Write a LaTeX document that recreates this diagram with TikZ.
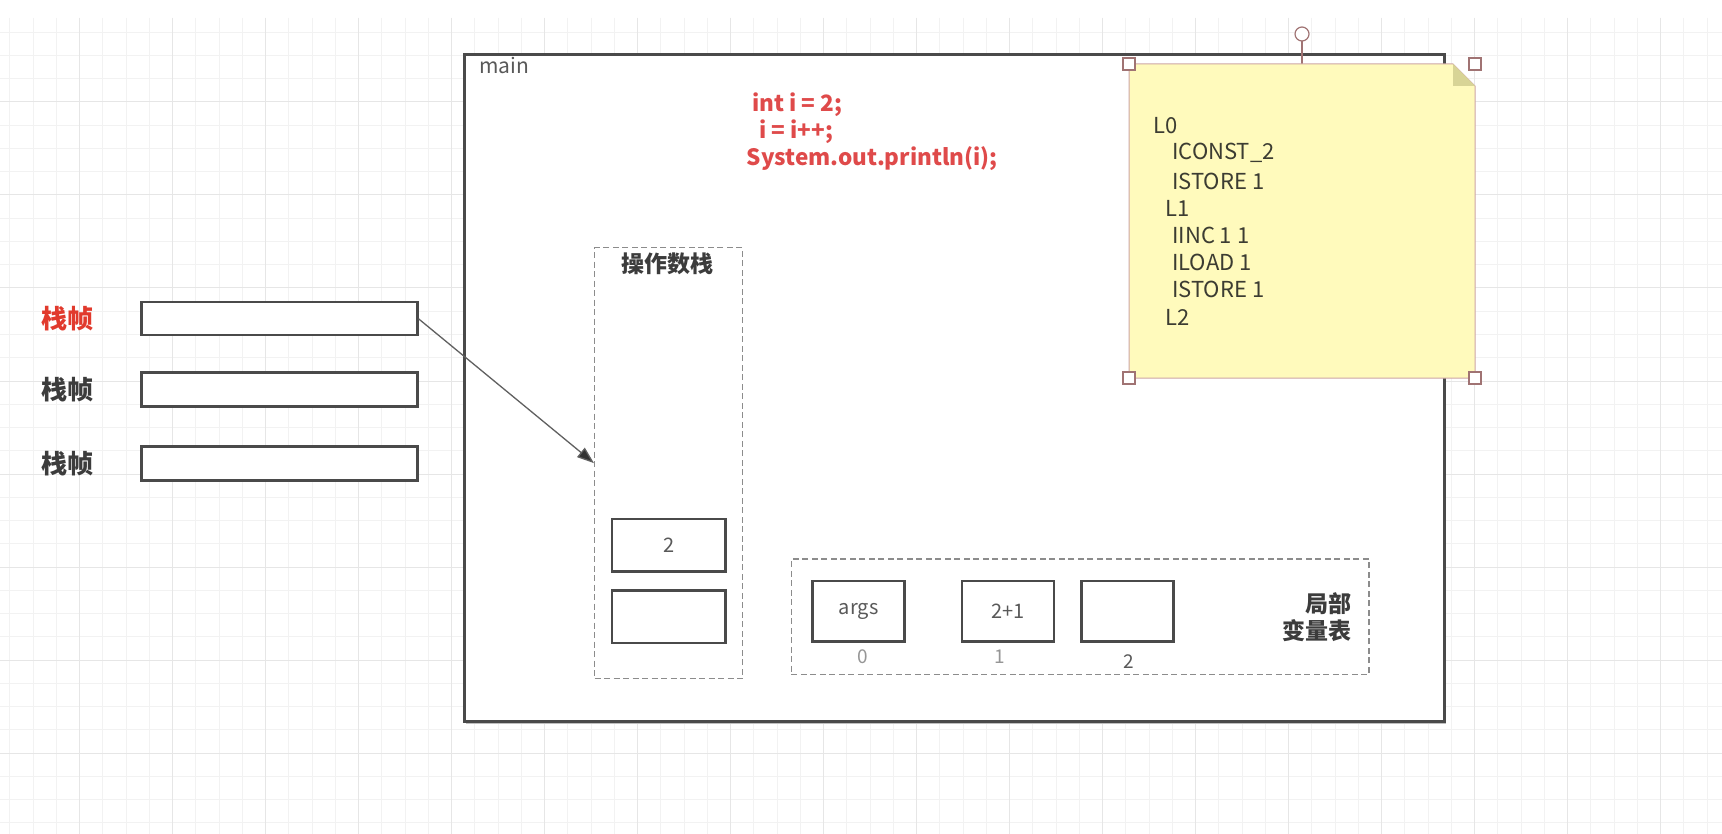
\documentclass[tikz,border=0pt]{standalone}
\usepackage{fontspec}
\setmainfont{Noto Sans CJK SC}
\usetikzlibrary{arrows.meta}
\definecolor{gridminor}{RGB}{242,242,242}
\definecolor{gridmajor}{RGB}{230,230,230}
\definecolor{frameborder}{RGB}{74,74,74}
\definecolor{dashcol}{RGB}{140,140,140}
\definecolor{textgray}{RGB}{89,89,89}
\definecolor{lightnum}{RGB}{150,150,150}
\definecolor{codered}{RGB}{223,74,74}
\definecolor{labelred}{RGB}{225,58,45}
\definecolor{darklabel}{RGB}{60,60,60}
\definecolor{notefill}{RGB}{255,250,188}
\definecolor{foldcol}{RGB}{216,212,150}
\definecolor{noteborder}{RGB}{205,165,165}
\definecolor{handlecol}{RGB}{160,115,115}
\definecolor{notetext}{RGB}{60,60,50}
\tikzset{
  gminor/.style={draw=gridminor, line width=1pt},
  gmajor/.style={draw=gridmajor, line width=1pt},
  mainbox/.style={draw=frameborder, line width=3pt, fill=white, rectangle, inner sep=0pt},
  frame/.style={draw=frameborder, line width=2.5pt, fill=white, rectangle, inner sep=0pt, anchor=north west},
  cell/.style={draw=frameborder, line width=2.5pt, fill=white, rectangle, inner sep=0pt, anchor=north west, text=textgray, font=\fontsize{20}{22}\selectfont},
  dashbox/.style={draw=dashcol, line width=1.3pt, dash pattern=on 6pt off 3.5pt, rectangle, inner sep=0pt, anchor=north west},
  code/.style={anchor=west, inner sep=0pt, text=codered, font=\fontsize{22.5}{26}\selectfont\bfseries},
  notetxt/.style={anchor=west, inner sep=0pt, text=notetext, font=\fontsize{22}{24}\selectfont},
  framelbl/.style={inner sep=0pt, text=darklabel, font=\fontsize{26}{30}\selectfont\bfseries},
  idx/.style={inner sep=0pt, text=lightnum, font=\fontsize{19}{21}\selectfont},
  handle/.style={draw=handlecol, fill=white, line width=1.2pt, rectangle, minimum size=12pt, inner sep=0pt},
  arrowline/.style={draw=gray!75!black, line width=1.3pt, -{Triangle[length=17pt,width=12pt,fill=black!80]}},
}
\begin{document}
\begin{tikzpicture}[x=1pt,y=-1pt]
\useasboundingbox (0,0) rectangle (1722,834);
\fill[white] (0,0) rectangle (1722,834);
% background grid
\foreach \i in {0,...,73} \draw[gminor] ({9.9+23.25*\i},18) -- ++(0,816);
\foreach \j in {0,...,34} \draw[gminor] (0,{32.25+23.25*\j}) -- ++(1722,0);
\foreach \i in {0,...,17} \draw[gmajor] ({79.6+93*\i},18) -- ++(0,816);
\foreach \j in {0,...,7} \draw[gmajor] (0,{102+93*\j}) -- ++(1722,0);

% main frame
\fill[black!25] (466,56) rectangle (1446,724);
\node[mainbox, anchor=north west, minimum width=980pt, minimum height=667pt] (main) at (463,53) {};
\node[anchor=west, inner sep=0pt, text=textgray, font=\fontsize{21}{24}\selectfont] (mainlbl) at (479,66) {main};

% code
\node[code] (code1) at (752,105) {int i = 2;};
\node[code] (code2) at (759,132) {i = i++;};
\node[code] (code3) at (746.5,159) {System.out.println(i);};

% sticky note
\draw[handlecol, line width=1.2pt] (1302,41) -- (1302,64);
\filldraw[fill=white, draw=handlecol, line width=1.2pt] (1302,34) circle (7);
\filldraw[fill=notefill, draw=noteborder, line width=1pt] (1129,64) -- (1453,64) -- (1475,86) -- (1475,378) -- (1129,378) -- cycle;
\fill[foldcol] (1453,64) -- (1453,86) -- (1475,86) -- cycle;
\node[handle] (h1) at (1129,64) {};
\node[handle] (h2) at (1475,64) {};
\node[handle] (h3) at (1129,378) {};
\node[handle] (h4) at (1475,378) {};
\node[notetxt] (n1) at (1153,126) {L0};
\node[notetxt] (n2) at (1172,153) {ICONST\_2};
\node[notetxt] (n3) at (1172,181) {ISTORE 1};
\node[notetxt] (n4) at (1165,208) {L1};
\node[notetxt] (n5) at (1172,235) {IINC 1 1};
\node[notetxt] (n6) at (1172,262) {ILOAD 1};
\node[notetxt] (n7) at (1172,289) {ISTORE 1};
\node[notetxt] (n8) at (1165,317) {L2};

% stack frames on the left
\node[framelbl, text=labelred] (l1) at (67.5,319) {栈帧};
\node[framelbl] (l2) at (67.5,390) {栈帧};
\node[framelbl] (l3) at (67.5,464) {栈帧};
\node[frame, minimum width=276pt, minimum height=33pt] (f1) at (140,301) {};
\node[frame, minimum width=276pt, minimum height=34pt] (f2) at (140,371) {};
\node[frame, minimum width=276pt, minimum height=34pt] (f3) at (140,445) {};

% operand stack
\node[dashbox, minimum width=148pt, minimum height=431pt] (ops) at (594,247) {};
\node[framelbl, font=\fontsize{23}{27}\selectfont\bfseries] (opst) at (667,264) {操作数栈};
\node[cell, minimum width=113.5pt, minimum height=52.5pt] (s1) at (610.7,517.5) {2};
\node[cell, minimum width=113.5pt, minimum height=52.5pt] (s2) at (610.7,589) {};

\draw[arrowline] (f1.east) -- (ops.west);

% local variable table
\node[dashbox, minimum width=577.5pt, minimum height=115.7pt] (lvt) at (790.7,558.3) {};
\node[cell, minimum width=92pt, minimum height=60.5pt] (v0) at (811.4,579.5) {args};
\node[cell, minimum width=92pt, minimum height=60.5pt] (v1) at (960.6,579.5) {2+1};
\node[cell, minimum width=92pt, minimum height=60.5pt] (v2) at (1080,579.5) {};
\node[idx] (i0) at (862.3,657) {0};
\node[idx] (i1) at (999.3,656.5) {1};
\node[idx, text=textgray] (i2) at (1129,661.5) {2};
\node[framelbl, anchor=east, align=right, font=\fontsize{23}{27.4}\selectfont\bfseries] (lvtl) at (1352,617) {局部\\变量表};
\end{tikzpicture}
\end{document}
